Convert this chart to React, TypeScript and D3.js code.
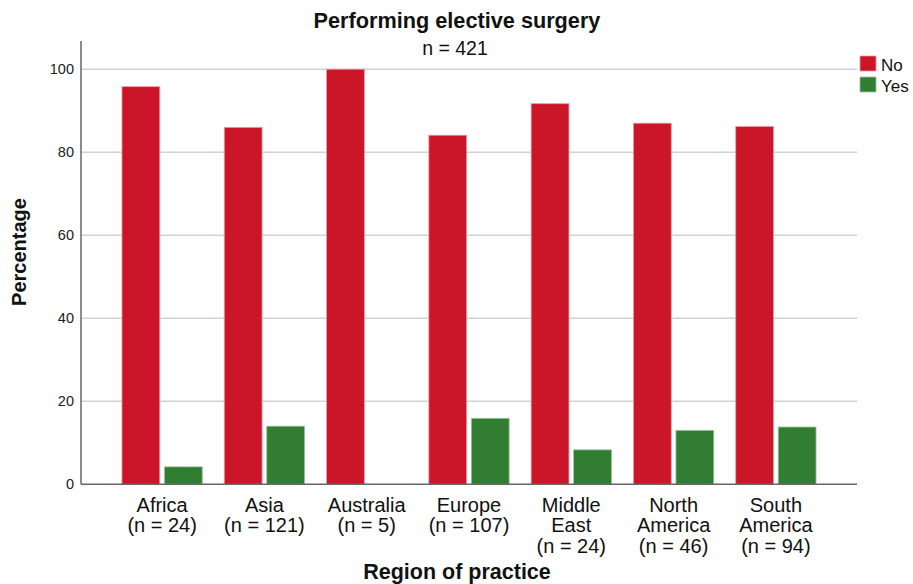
import { useEffect, useRef } from 'react';
import * as d3 from 'd3';

const regions = ["Africa", "Asia", "Australia", "Europe", "Middle East", "North America", "South America"];
const regionLabels = [
  ["Africa", "(n = 24)"],
  ["Asia", "(n = 121)"],
  ["Australia", "(n = 5)"],
  ["Europe", "(n = 107)"],
  ["Middle", "East", "(n = 24)"],
  ["North", "America", "(n = 46)"],
  ["South", "America", "(n = 94)"],
];
const answers = ["No", "Yes"];
const noPct = [95.8, 86.0, 100, 84.1, 91.7, 87.0, 86.2];
const yesPct = [4.2, 14.0, 0, 15.9, 8.3, 13.0, 13.8];
const yTicks = [0, 20, 40, 60, 80, 100];

const colors: Record<string, string> = { No: "#cb1529", Yes: "#317d32" };
const FONT = "'Liberation Sans', Arial, sans-serif";

export default function App() {
  const svgRef = useRef<SVGSVGElement>(null);

  useEffect(() => {
    if (!svgRef.current) return;
    const svg = d3.select(svgRef.current);
    svg.selectAll("*").remove();

    const W = 913, H = 584;
    const left = 81, right = 857, bottom = 484.3, top = 41;
    svg.attr("width", W).attr("height", H).style("font-family", FONT);

    const x0 = d3.scaleBand<string>().domain(regions).range([left, right]).paddingOuter(0.293).paddingInner(0);
    const x1 = d3.scaleBand<string>().domain(answers).range([11, x0.bandwidth() - 11]).paddingInner(0.11);
    const y = d3.scaleLinear().domain([0, 106.8]).range([bottom, top]);

    // gridlines
    svg.append("g")
      .selectAll("line")
      .data(yTicks.filter(t => t > 0))
      .enter().append("line")
      .attr("x1", left).attr("x2", right)
      .attr("y1", d => y(d)).attr("y2", d => y(d))
      .attr("stroke", "#d2d2d2")
      .attr("stroke-width", 1.5);

    // bars
    const data = regions.map((r, i) => ({ region: r, values: [{ key: "No", v: noPct[i] }, { key: "Yes", v: yesPct[i] }] }));
    const groups = svg.append("g")
      .selectAll("g")
      .data(data)
      .enter().append("g")
      .attr("transform", d => `translate(${x0(d.region)},0)`);

    groups.selectAll("rect")
      .data(d => d.values.filter(v => v.v > 0))
      .enter().append("rect")
      .attr("x", d => x1(d.key)!)
      .attr("width", x1.bandwidth())
      .attr("y", d => y(d.v))
      .attr("height", d => y(0) - y(d.v))
      .attr("fill", d => colors[d.key])
      .attr("stroke", d => d.key === "No" ? "#ee9aa4" : "#9cc49c")
      .attr("stroke-width", 0.8);

    // axes
    const yAxis = d3.axisLeft(y).tickValues(yTicks).tickSize(0).tickPadding(7);
    const yg = svg.append("g").attr("transform", `translate(${left},0)`).call(yAxis as any);
    yg.select(".domain").remove();
    yg.selectAll("text").style("font-size", "14.5px").style("font-family", FONT).attr("fill", "#222");

    svg.append("line")
      .attr("x1", left).attr("x2", left).attr("y1", top).attr("y2", bottom)
      .attr("stroke", "#666").attr("stroke-width", 1.5);
    svg.append("line")
      .attr("x1", left).attr("x2", right).attr("y1", bottom).attr("y2", bottom)
      .attr("stroke", "#666").attr("stroke-width", 1.5);

    // category labels
    const cat = svg.append("g")
      .selectAll("text")
      .data(regions)
      .enter().append("text")
      .attr("text-anchor", "middle")
      .attr("x", d => x0(d)! + x0.bandwidth() / 2)
      .attr("y", 511.7)
      .style("font-size", "20px")
      .attr("fill", "#111");
    cat.selectAll("tspan")
      .data((d, i) => regionLabels[i])
      .enter().append("tspan")
      .attr("x", function () { return (this as any).parentNode.getAttribute("x"); })
      .attr("dy", (d, i) => (i === 0 ? 0 : 20.5))
      .text(d => d);

    // titles
    svg.append("text")
      .attr("x", 457).attr("y", 28)
      .attr("text-anchor", "middle")
      .style("font-size", "21.7px").style("font-weight", "bold")
      .attr("fill", "#111")
      .text("Performing elective surgery");
    svg.append("text")
      .attr("x", 455).attr("y", 55)
      .attr("text-anchor", "middle")
      .style("font-size", "19.5px")
      .attr("fill", "#111")
      .text("n = 421");

    svg.append("text")
      .attr("x", 457).attr("y", 579)
      .attr("text-anchor", "middle")
      .style("font-size", "21.5px").style("font-weight", "bold")
      .attr("fill", "#111")
      .text("Region of practice");

    svg.append("text")
      .attr("transform", "rotate(-90)")
      .attr("x", -252).attr("y", 26)
      .attr("text-anchor", "middle")
      .style("font-size", "20px").style("font-weight", "bold")
      .attr("fill", "#111")
      .text("Percentage");

    // legend
    const legend = svg.append("g")
      .selectAll("g")
      .data(answers)
      .enter().append("g")
      .attr("transform", (d, i) => `translate(860,${56 + i * 21})`);
    legend.append("rect")
      .attr("width", 16).attr("height", 15)
      .attr("fill", d => colors[d])
      .attr("stroke", d => d === "No" ? "#ee9aa4" : "#9cc49c")
      .attr("stroke-width", 0.8);
    legend.append("text")
      .attr("x", 21).attr("y", 15)
      .style("font-size", "17px")
      .attr("fill", "#111")
      .text(d => d);
  }, []);

  return <svg ref={svgRef} style={{ position: "absolute", left: 0, top: 0 }}></svg>;
}
